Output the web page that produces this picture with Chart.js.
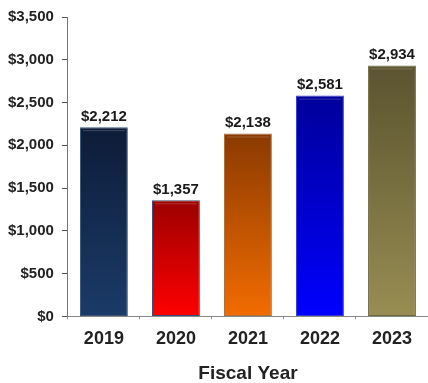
<!DOCTYPE html>
<html>
<head>
<meta charset="utf-8">
<script src="https://cdn.jsdelivr.net/npm/chart.js@4.4.1/dist/chart.umd.min.js"></script>
<style>
  html, body { margin: 0; padding: 0; background: #fff; }
  #wrap { width: 428px; height: 383px; overflow: hidden; }
</style>
</head>
<body>
<div id="wrap"><canvas id="c" width="428" height="383"></canvas></div>
<script>
const years = ['2019', '2020', '2021', '2022', '2023'];
const amounts = [2212, 1357, 2138, 2581, 2934];
const yTicks = [0, 500, 1000, 1500, 2000, 2500, 3000, 3500];

// top / bottom colours of each bar's vertical gradient
const topColors = ['#0d1c38', '#9c0000', '#8a3a00', '#00009a', '#5a532f'];
const bottomColors = ['#1b3b68', '#ff0000', '#f26c00', '#0000ff', '#988d52'];
const edgeColors = ['#3a5478', '#3a4a70', '#b0703a', '#3a3ad0', '#6e6840'];

const FONT = '"Liberation Sans", Arial, sans-serif';
const money = v => '$' + v.toLocaleString('en-US');

function barGradient(ctx) {
  const chart = ctx.chart;
  const { ctx: g, chartArea, scales } = chart;
  if (!chartArea) return bottomColors[ctx.dataIndex];
  const i = ctx.dataIndex;
  const top = scales.y.getPixelForValue(amounts[i]);
  const bottom = scales.y.getPixelForValue(0);
  const grad = g.createLinearGradient(0, top, 0, bottom);
  grad.addColorStop(0, topColors[i]);
  grad.addColorStop(1, bottomColors[i]);
  return grad;
}

// values printed above each bar, plus a faint bevel line along each bar top
const valueLabels = {
  id: 'valueLabels',
  afterDatasetsDraw(chart) {
    const { ctx } = chart;
    const meta = chart.getDatasetMeta(0);
    ctx.save();
    meta.data.forEach((bar, i) => {
      const half = bar.width / 2;
      ctx.strokeStyle = 'rgba(255,255,255,0.2)';
      ctx.lineWidth = 1;
      ctx.beginPath();
      ctx.moveTo(bar.x - half + 3, bar.y + 3.5);
      ctx.lineTo(bar.x + half - 3, bar.y + 3.5);
      ctx.stroke();

      ctx.fillStyle = '#1a1a1a';
      ctx.font = 'bold 15px ' + FONT;
      ctx.textAlign = 'center';
      ctx.textBaseline = 'bottom';
      ctx.fillText(money(amounts[i]), bar.x, bar.y - 3);
    });
    ctx.restore();
  }
};

new Chart(document.getElementById('c'), {
  type: 'bar',
  data: {
    labels: years,
    datasets: [{
      data: amounts,
      backgroundColor: barGradient,
      borderColor: edgeColors,
      borderWidth: 1,
      borderSkipped: false,
      barPercentage: 0.665,
      categoryPercentage: 1.0
    }]
  },
  options: {
    responsive: false,
    animation: false,
    layout: { padding: { top: 16, right: -12, left: 0, bottom: 0 } },
    plugins: {
      legend: { display: false },
      tooltip: { enabled: false }
    },
    scales: {
      x: {
        grid: {
          display: true,
          drawOnChartArea: false,
          drawTicks: true,
          tickLength: 3,
          color: '#999',
          offset: true
        },
        border: { display: true, color: '#888', width: 1 },
        ticks: {
          color: '#222',
          font: { family: FONT, size: 18, weight: 'bold' },
          padding: 9
        },
        title: {
          display: true,
          text: 'Fiscal Year',
          color: '#222',
          font: { family: FONT, size: 19, weight: 'bold', lineHeight: 1 },
          padding: { top: 5, bottom: 0 }
        }
      },
      y: {
        min: 0,
        max: 3500,
        afterBuildTicks(axis) {
          axis.ticks = yTicks.map(v => ({ value: v }));
        },
        grid: {
          display: true,
          drawOnChartArea: false,
          drawTicks: true,
          tickLength: 6,
          color: '#555'
        },
        border: { display: true, color: '#777', width: 1 },
        ticks: {
          color: '#222',
          font: { family: FONT, size: 15, weight: 'bold' },
          padding: 8,
          callback: v => money(v)
        }
      }
    }
  },
  plugins: [valueLabels]
});
</script>
</body>
</html>
